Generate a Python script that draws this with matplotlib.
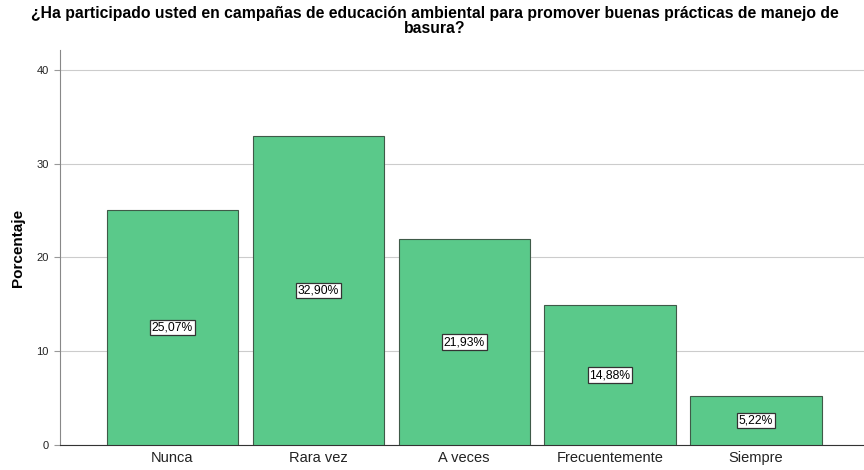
import matplotlib
matplotlib.use("Agg")
import matplotlib.pyplot as plt

categories = ["Nunca", "Rara vez", "A veces", "Frecuentemente", "Siempre"]
percentages = [25.07, 32.90, 21.93, 14.88, 5.22]
y_ticks = [0, 10, 20, 30, 40]

plt.rcParams['font.family'] = ['Liberation Sans', 'DejaVu Sans']

fig = plt.figure(figsize=(8.64, 4.70), dpi=100)
ax = fig.add_axes([0.0694, 0.0532, 0.9306, 0.8404])

x = list(range(len(categories)))
ax.bar(x, percentages, width=0.9, color='#5ac98a', edgecolor='#3f5a48',
       linewidth=0.8, zorder=3)

for xi, val in zip(x, percentages):
    label = f"{val:.2f}".replace(".", ",") + "%"
    ax.text(xi, val / 2, label, ha='center', va='center', fontsize=8.7,
            zorder=4,
            bbox=dict(boxstyle='square,pad=0.15', facecolor='white',
                      edgecolor='#333333', linewidth=0.9))

ax.set_xlim(-0.77, 4.74)
ax.set_ylim(0, 42.1)
ax.set_yticks(y_ticks)
ax.set_yticklabels([str(t) for t in y_ticks], fontsize=8, color='#222222')
ax.set_xticks(x)
ax.set_xticklabels(categories, fontsize=10.5, color='#222222')
ax.tick_params(axis='x', length=0, pad=4)
ax.tick_params(axis='y', length=4, color='#999999', pad=4)

ax.grid(axis='y', color='#cccccc', linewidth=0.8, zorder=0)
for side in ['top', 'right']:
    ax.spines[side].set_visible(False)
ax.spines['left'].set_color('#888888')
ax.spines['bottom'].set_color('#333333')

ax.set_ylabel('Porcentaje', fontsize=11, fontweight='bold', labelpad=8)
fig.suptitle('¿Ha participado usted en campañas de educación ambiental para promover buenas prácticas de manejo de\nbasura?',
             fontsize=11.3, fontweight='bold', x=0.503, y=0.988, linespacing=1.0)

fig.savefig('out.png', dpi=100)
